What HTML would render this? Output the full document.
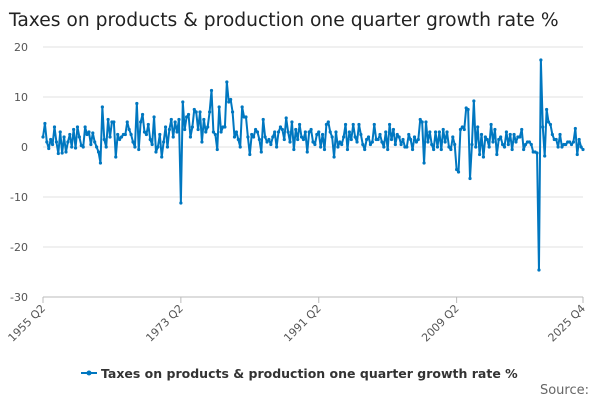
<!DOCTYPE html>
<html><head><meta charset="utf-8"><style>
body{margin:0;background:#fff;font-family:"DejaVu Sans","Liberation Sans",sans-serif}
svg{display:block;font-family:"DejaVu Sans","Liberation Sans",sans-serif}
</style></head><body>
<svg id="chart" width="600" height="400">
<text x="9" y="26" font-size="18.7" fill="#222">Taxes on products &amp; production one quarter growth rate %</text>
<g id="grid"></g><g id="yt"></g><g id="xt"></g><g id="series"></g>
<g>
<line x1="81" y1="373" x2="97" y2="373" stroke="#0077c0" stroke-width="2"/>
<circle cx="89" cy="373" r="2.5" fill="#0077c0"/>
<text x="101" y="378" font-size="12.5" font-weight="bold" fill="#333">Taxes on products &amp; production one quarter growth rate %</text>
</g>
<text x="589" y="394" font-size="13" fill="#666" text-anchor="end">Source:</text>
</svg>
<script>
const values=[2,4.7,1,-0.3,1.5,0.5,4,1,-1.3,3,
-1.2,2,-1,1,2.5,0,3.5,-0.2,4,2,
0.3,0,4,2.5,3,0.5,2.8,1,0,-1,
-3.2,8,1.5,0,5.5,2,5,5,-2,2.5,
1.5,2,2.5,2.5,5,3.5,2.5,1,0,8.7,
-0.5,5,6.5,3,2.5,4.5,1.5,0.5,6,-1,
0,2.5,-2,1,4,0,3.5,5.5,2,5,
3,5.5,-11.2,9,3.5,6,6.5,2,4,7.5,
7,3.5,7,1,5.5,3,4,7,11.3,3,
2.5,-0.5,8,3,4,4,13,9,9.5,7,
2,3,1.5,0,8,6,6,2,-1.5,2.5,
2,3.5,3,1.5,-1,5.5,2,1,1.5,0.5,
2,3,0,3,4,3.5,1.5,5.8,3,1,
5,-0.5,3.5,1.5,4.5,2,1.5,3,-1,3,
3.5,1,0.5,2.5,3,0,2.5,-0.5,4.5,5,
3,2,-2,3,0,1,0.5,2,4.5,-0.5,
3,1.5,4.5,2,1,4.5,2.5,0.5,-0.5,1.5,
2,0.5,1,4.5,1.5,1.5,2.5,1,0,3,
-0.5,4.5,1.5,3.5,0.5,2.5,2,0.5,1.5,0,
0,2.5,1.5,-0.5,2,1,1.5,5.5,5,-3.2,
5,1,3,0.5,-0.5,3,0,3,-0.5,3.5,
1,3,0,-0.5,2,0.5,-4.5,-5,3.5,4,
3.5,7.8,7.5,-6.3,0.5,9.2,0,4,-1.5,2.5,
-2,2,1.5,0,4.5,1,3.5,-1.5,1.5,2,
0.5,0,3,0.5,2.5,-0.5,2.5,1,2,2,
3.5,-0.5,0.5,1,1,0.5,-1,-1,-1.2,-24.6,
17.4,4,-1.8,7.5,5,4.5,2.5,1.5,1.5,0,
2.5,0,0.5,0.5,1,1,0.5,1,3.7,-1.5,1.5,0,-0.5];
const yTicks=[20,10,0,-10,-20,-30];
const xTickIdx=[0,72,144,216,282];
const xTickLabels=["1955 Q2","1973 Q2","1991 Q2","2009 Q2","2025 Q4"];
const NS="http://www.w3.org/2000/svg";
const X0=43,X1=583,Y0=47,Y1=297;
const xS=i=>X0+i*(X1-X0)/(values.length-1);
const yS=v=>Y0+(20-v)*(Y1-Y0)/50;
function mk(t,a,p){const e=document.createElementNS(NS,t);for(const k in a)e.setAttribute(k,a[k]);p.appendChild(e);return e;}
const grid=document.getElementById('grid'),yt=document.getElementById('yt'),xt=document.getElementById('xt'),ser=document.getElementById('series');
yTicks.forEach(v=>{
const l=mk('line',{x1:X0,x2:X1,y1:yS(v),y2:yS(v),stroke:v===-30?'#bbb':'#e0e0e0','stroke-width':1},grid);


const t=mk('text',{x:28,y:yS(v)+4,'font-size':11,fill:'#555','text-anchor':'end'},yt);
t.textContent=v;


});
xTickIdx.forEach((ix,k)=>{
const x=xS(ix);
const tk=mk('line',{x1:x,x2:x,y1:Y1,y2:Y1+6,stroke:'#bbb'},xt);


const t=mk('text',{x:x+3,y:Y1+12,'font-size':11,fill:'#555','text-anchor':'end',transform:`rotate(-45 ${x+3} ${Y1+12})`},xt);
t.textContent=xTickLabels[k];


});
const pl=mk('polyline',{points:values.map((v,i)=>xS(i)+','+yS(v)).join(' '),fill:'none',stroke:'#0077c0','stroke-width':2,'stroke-linejoin':'round'},ser);


values.forEach((v,i)=>{
const c=mk('circle',{cx:xS(i),cy:yS(v),r:1.6,fill:'#0077c0'},ser);


});
</script>
</body></html>
